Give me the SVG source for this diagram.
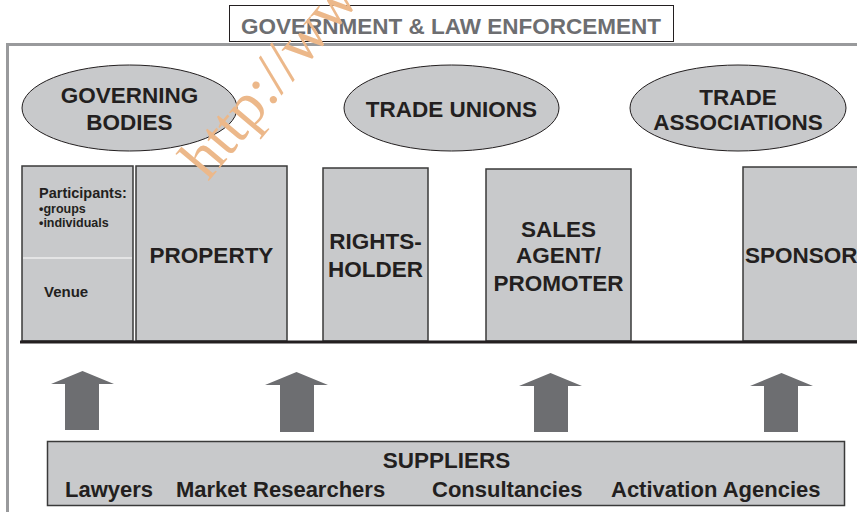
<svg xmlns="http://www.w3.org/2000/svg" width="857" height="512" viewBox="0 0 857 512">
<style>
text{font-family:"Liberation Sans",Arial,sans-serif;font-weight:bold;fill:#231f20}
.t22{font-size:22.5px}
.mid{text-anchor:middle}
.oval{fill:#c8c9cb;stroke:#231f20;stroke-width:1}
.box{fill:#c8c9cb;stroke:#3a3a3a;stroke-width:1.5}
.arrow{fill:#6d6e71}
</style>
<rect x="0" y="0" width="857" height="512" fill="#ffffff"/>
<g id="frame">
<rect x="7.5" y="44.5" width="900" height="520" fill="none" stroke="#999a9c" stroke-width="3"/>
</g>
<g id="title">
<rect x="229.5" y="5.5" width="444" height="36" fill="#ffffff" stroke="#231f20" stroke-width="1"/>
<text x="451" y="34" class="t22 mid" style="fill:#6d6e71">GOVERNMENT &amp; LAW ENFORCEMENT</text>
</g>
<g id="governing-bodies">
<ellipse cx="129.5" cy="108" rx="107.5" ry="43" class="oval"/>
<text x="129.5" y="103" class="t22 mid">GOVERNING</text>
<text x="129.5" y="130" class="t22 mid">BODIES</text>
</g>
<g id="trade-unions">
<ellipse cx="451.5" cy="108" rx="107.5" ry="43" class="oval"/>
<text x="451.5" y="117" class="t22 mid">TRADE UNIONS</text>
</g>
<g id="trade-associations">
<ellipse cx="738" cy="108" rx="108" ry="43" class="oval"/>
<text x="738" y="105" class="t22 mid">TRADE</text>
<text x="738" y="130" class="t22 mid">ASSOCIATIONS</text>
</g>
<g id="participants-venue">
<rect x="22" y="166" width="111" height="175" class="box"/>
<line x1="23" y1="258" x2="132" y2="258" stroke="#ffffff" stroke-width="1.2"/>
<text x="39" y="198" style="font-size:14.5px">Participants:</text>
<text x="39" y="213" style="font-size:12.5px">•groups</text>
<text x="39" y="227" style="font-size:12.5px">•individuals</text>
<text x="44" y="297" style="font-size:15px">Venue</text>
</g>
<g id="property">
<rect x="136" y="166" width="151" height="175" class="box"/>
<text x="211.5" y="263" class="t22 mid">PROPERTY</text>
</g>
<g id="rights-holder">
<rect x="323" y="168" width="105" height="173" class="box"/>
<text x="375.5" y="249" class="t22 mid">RIGHTS-</text>
<text x="375.5" y="277" class="t22 mid">HOLDER</text>
</g>
<g id="sales-agent">
<rect x="486" y="169" width="145" height="172" class="box"/>
<text x="558.5" y="237" class="t22 mid">SALES</text>
<text x="558.5" y="263" class="t22 mid">AGENT/</text>
<text x="558.5" y="291" class="t22 mid">PROMOTER</text>
</g>
<g id="sponsor">
<rect x="743" y="167" width="130" height="174" class="box"/>
<text x="745" y="263" class="t22">SPONSOR</text>
</g>
<g id="connectors">
<line x1="20" y1="342" x2="857" y2="342" stroke="#231f20" stroke-width="3"/>
<polygon class="arrow" points="51,384 82.5,371 114,384 99,384 99,430 65,430 65,384"/>
<polygon class="arrow" points="265,385 296.5,372 328,385 314,385 314,432 280,432 280,385"/>
<polygon class="arrow" points="519,386 550.5,373 582,386 568,386 568,432 534,432 534,386"/>
<polygon class="arrow" points="750,386 781.5,373 813,386 798,386 798,432 764,432 764,386"/>
</g>
<g id="suppliers">
<rect x="47.5" y="441.5" width="797" height="64" class="box"/>
<text x="446.5" y="468" class="t22 mid">SUPPLIERS</text>
<text x="65" y="497" style="font-size:22px">Lawyers</text>
<text x="176" y="497" style="font-size:22px">Market Researchers</text>
<text x="432" y="497" style="font-size:22px">Consultancies</text>
<text x="611" y="497" style="font-size:22px">Activation Agencies</text>
</g>
<g id="watermark">
<text transform="translate(208,182) rotate(-50)" style="font-family:'Liberation Serif','Times New Roman',serif;font-weight:normal;font-size:62px;fill:#ecb88a">http://www</text>
</g>
</svg>
